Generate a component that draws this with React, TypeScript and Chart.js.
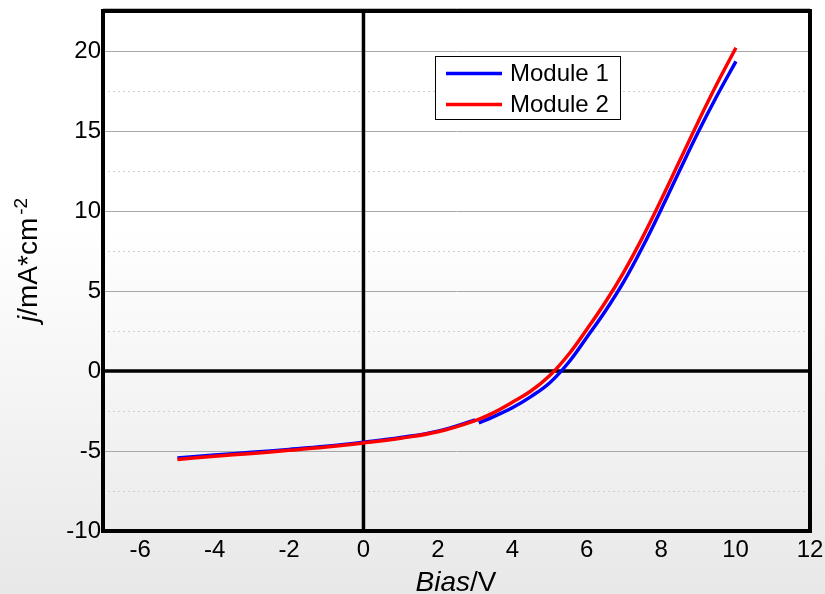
import React, { useEffect, useRef } from "react";
import { Chart, registerables } from "chart.js";

Chart.register(...registerables);

const biasM1: number[] = [-5, -4, -3, -2, -1, 0, 1, 2, 3, 3.05, 3.1, 3.5, 4, 4.5, 5, 5.5, 6, 6.5, 7, 7.5, 8, 8.5, 9, 9.5, 10.01];
const currM1: (number | null)[] = [-5.43, -5.25, -5.08, -4.9, -4.7, -4.45, -4.16, -3.76, -3.06, null, -3.25, -2.85, -2.3, -1.6, -0.75, 0.5, 2.1, 3.75, 5.6, 7.75, 10.1, 12.55, 14.95, 17.2, 19.35];
const biasM2: number[] = [-5, -4, -3, -2, -1, 0, 1, 2, 3, 3.5, 4, 4.5, 5, 5.5, 6, 6.5, 7, 7.5, 8, 8.5, 9, 9.5, 10.01];
const currM2: number[] = [-5.53, -5.33, -5.15, -4.96, -4.75, -4.5, -4.2, -3.8, -3.1, -2.6, -1.95, -1.25, -0.3, 1.0, 2.6, 4.3, 6.2, 8.35, 10.7, 13.15, 15.6, 17.95, 20.2];

const seriesNames = ["Module 1", "Module 2"];
const seriesColors = ["#0000ff", "#ff0000"];
const xTickValues = [-6, -4, -2, 0, 2, 4, 6, 8, 10, 12];
const yTickValues = [-10, -5, 0, 5, 10, 15, 20];
const yMajorGrid = [-5, 5, 10, 15, 20];
const yMinorGrid = [-7.5, -2.5, 2.5, 7.5, 12.5, 17.5];
const X_MIN = -7, X_MAX = 12, Y_MIN = -10, Y_MAX = 22.5;

const FONT = "'Liberation Sans', Arial, sans-serif";

const decorPlugin = {
  id: "decor",
  beforeDatasetsDraw(chart: any) {
    const ctx = chart.ctx;
    const { left, right, top, bottom } = chart.chartArea;
    const xs = chart.scales.x;
    const ys = chart.scales.y;
    ctx.save();
    ctx.strokeStyle = "#cfcfcf";
    ctx.lineWidth = 1;
    ctx.setLineDash([2, 3]);
    for (const v of yMinorGrid) {
      const y = Math.round(ys.getPixelForValue(v)) + 0.5;
      ctx.beginPath();
      ctx.moveTo(left, y);
      ctx.lineTo(right, y);
      ctx.stroke();
    }
    ctx.setLineDash([]);
    ctx.strokeStyle = "#a8a8a8";
    for (const v of yMajorGrid) {
      const y = Math.round(ys.getPixelForValue(v)) + 0.5;
      ctx.beginPath();
      ctx.moveTo(left, y);
      ctx.lineTo(right, y);
      ctx.stroke();
    }
    ctx.strokeStyle = "#b8b8b8";
    ctx.beginPath();
    ctx.moveTo(left, top - 2.5);
    ctx.lineTo(right, top - 2.5);
    ctx.stroke();
    for (let v = X_MIN + 1; v < X_MAX; v++) {
      const x = Math.round(xs.getPixelForValue(v)) + 0.5;
      ctx.beginPath();
      ctx.moveTo(x, top - 3);
      ctx.lineTo(x, top);
      ctx.stroke();
    }
    ctx.strokeStyle = "#000";
    ctx.lineWidth = 3.5;
    const x0 = xs.getPixelForValue(0);
    const y0 = ys.getPixelForValue(0);
    ctx.beginPath();
    ctx.moveTo(x0, top);
    ctx.lineTo(x0, bottom);
    ctx.stroke();
    ctx.beginPath();
    ctx.moveTo(left, y0);
    ctx.lineTo(right, y0);
    ctx.stroke();
    ctx.restore();
  },
  afterDraw(chart: any) {
    const ctx = chart.ctx;
    const { left, right, top, bottom } = chart.chartArea;
    ctx.save();
    ctx.strokeStyle = "#000";
    ctx.lineWidth = 4;
    ctx.strokeRect(left, top, right - left, bottom - top);

    // legend
    ctx.fillStyle = "#ffffff";
    ctx.fillRect(435, 56.5, 186, 63);
    ctx.strokeStyle = "#000";
    ctx.lineWidth = 1;
    ctx.strokeRect(435.5, 56.5, 185, 63);
    const rows = [73.5, 104.5];
    ctx.font = `24px ${FONT}`;
    ctx.textBaseline = "middle";
    ctx.textAlign = "left";
    seriesNames.forEach((name, i) => {
      ctx.strokeStyle = seriesColors[i];
      ctx.lineWidth = 3.5;
      ctx.beginPath();
      ctx.moveTo(446, rows[i]);
      ctx.lineTo(502, rows[i]);
      ctx.stroke();
      ctx.fillStyle = "#000";
      ctx.fillText(name, 510, rows[i] + 1);
    });

    // x title
    ctx.textBaseline = "alphabetic";
    ctx.fillStyle = "#000";
    const p1 = "Bias";
    ctx.font = `italic 28px ${FONT}`;
    const w1 = ctx.measureText(p1).width;
    ctx.font = `28px ${FONT}`;
    const w2 = ctx.measureText("/V").width;
    const sx = 456 - (w1 + w2) / 2;
    ctx.font = `italic 28px ${FONT}`;
    ctx.fillText(p1, sx, 591);
    ctx.font = `28px ${FONT}`;
    ctx.fillText("/V", sx + w1, 591);

    // y title (rotated)
    ctx.translate(37, 322);
    ctx.rotate(-Math.PI / 2);
    let tx = 0;
    ctx.font = `italic 28px ${FONT}`;
    ctx.fillText("j", tx, 0);
    tx += ctx.measureText("j").width;
    ctx.font = `28px ${FONT}`;
    ctx.fillText("/mA*cm", tx, 0);
    tx += ctx.measureText("/mA*cm").width;
    ctx.font = `19px ${FONT}`;
    ctx.fillText("-2", tx + 3, -10);
    ctx.restore();
  },
};

export default function App() {
  const ref = useRef<HTMLCanvasElement | null>(null);
  useEffect(() => {
    if (!ref.current) return;
    const d1 = biasM1.map((x, i) => ({ x, y: currM1[i] }));
    const d2 = biasM2.map((x, i) => ({ x, y: currM2[i] }));
    const chart = new Chart(ref.current, {
      type: "line",
      data: {
        datasets: [
          {
            label: seriesNames[0],
            data: d1 as any,
            borderColor: seriesColors[0],
            borderWidth: 3.5,
            pointRadius: 0,
            tension: 0.4,
            spanGaps: false,
            order: 1,
          },
          {
            label: seriesNames[1],
            data: d2 as any,
            borderColor: seriesColors[1],
            borderWidth: 3.5,
            pointRadius: 0,
            tension: 0.4,
            order: 0,
          },
        ],
      },
      plugins: [decorPlugin],
      options: {
        animation: false,
        responsive: false,
        devicePixelRatio: 1,
        layout: { padding: { top: 11, right: 15, left: 0, bottom: 0 } },
        plugins: { legend: { display: false }, tooltip: { enabled: false } },
        scales: {
          x: {
            type: "linear",
            min: X_MIN,
            max: X_MAX,
            grid: { display: false, drawTicks: false },
            border: { display: false },
            afterBuildTicks: (s: any) => {
              s.ticks = xTickValues.map((v) => ({ value: v }));
            },
            afterFit: (s: any) => {
              s.height = 63;
              s.paddingLeft = 0;
              s.paddingRight = 0;
            },
            ticks: {
              color: "#000",
              padding: 5,
              maxRotation: 0,
              autoSkip: false,
              font: { family: FONT, size: 24 },
            },
          },
          y: {
            type: "linear",
            min: Y_MIN,
            max: Y_MAX,
            grid: { display: false, drawTicks: false },
            border: { display: false },
            afterBuildTicks: (s: any) => {
              s.ticks = yTickValues.map((v) => ({ value: v }));
            },
            afterFit: (s: any) => {
              s.width = 103;
              s.paddingTop = 0;
              s.paddingBottom = 0;
            },
            ticks: {
              color: "#000",
              padding: 2,
              autoSkip: false,
              font: { family: FONT, size: 24 },
            },
          },
        },
      },
    });
    return () => chart.destroy();
  }, []);
  return (
    <div
      style={{
        position: "absolute",
        left: 0,
        top: 0,
        width: 825,
        height: 594,
        background: "linear-gradient(to bottom, #ffffff 0%, #ffffff 38%, #e8e8e8 100%)",
      }}
    >
      <canvas ref={ref} width={825} height={594} style={{ display: "block" }} />
    </div>
  );
}
